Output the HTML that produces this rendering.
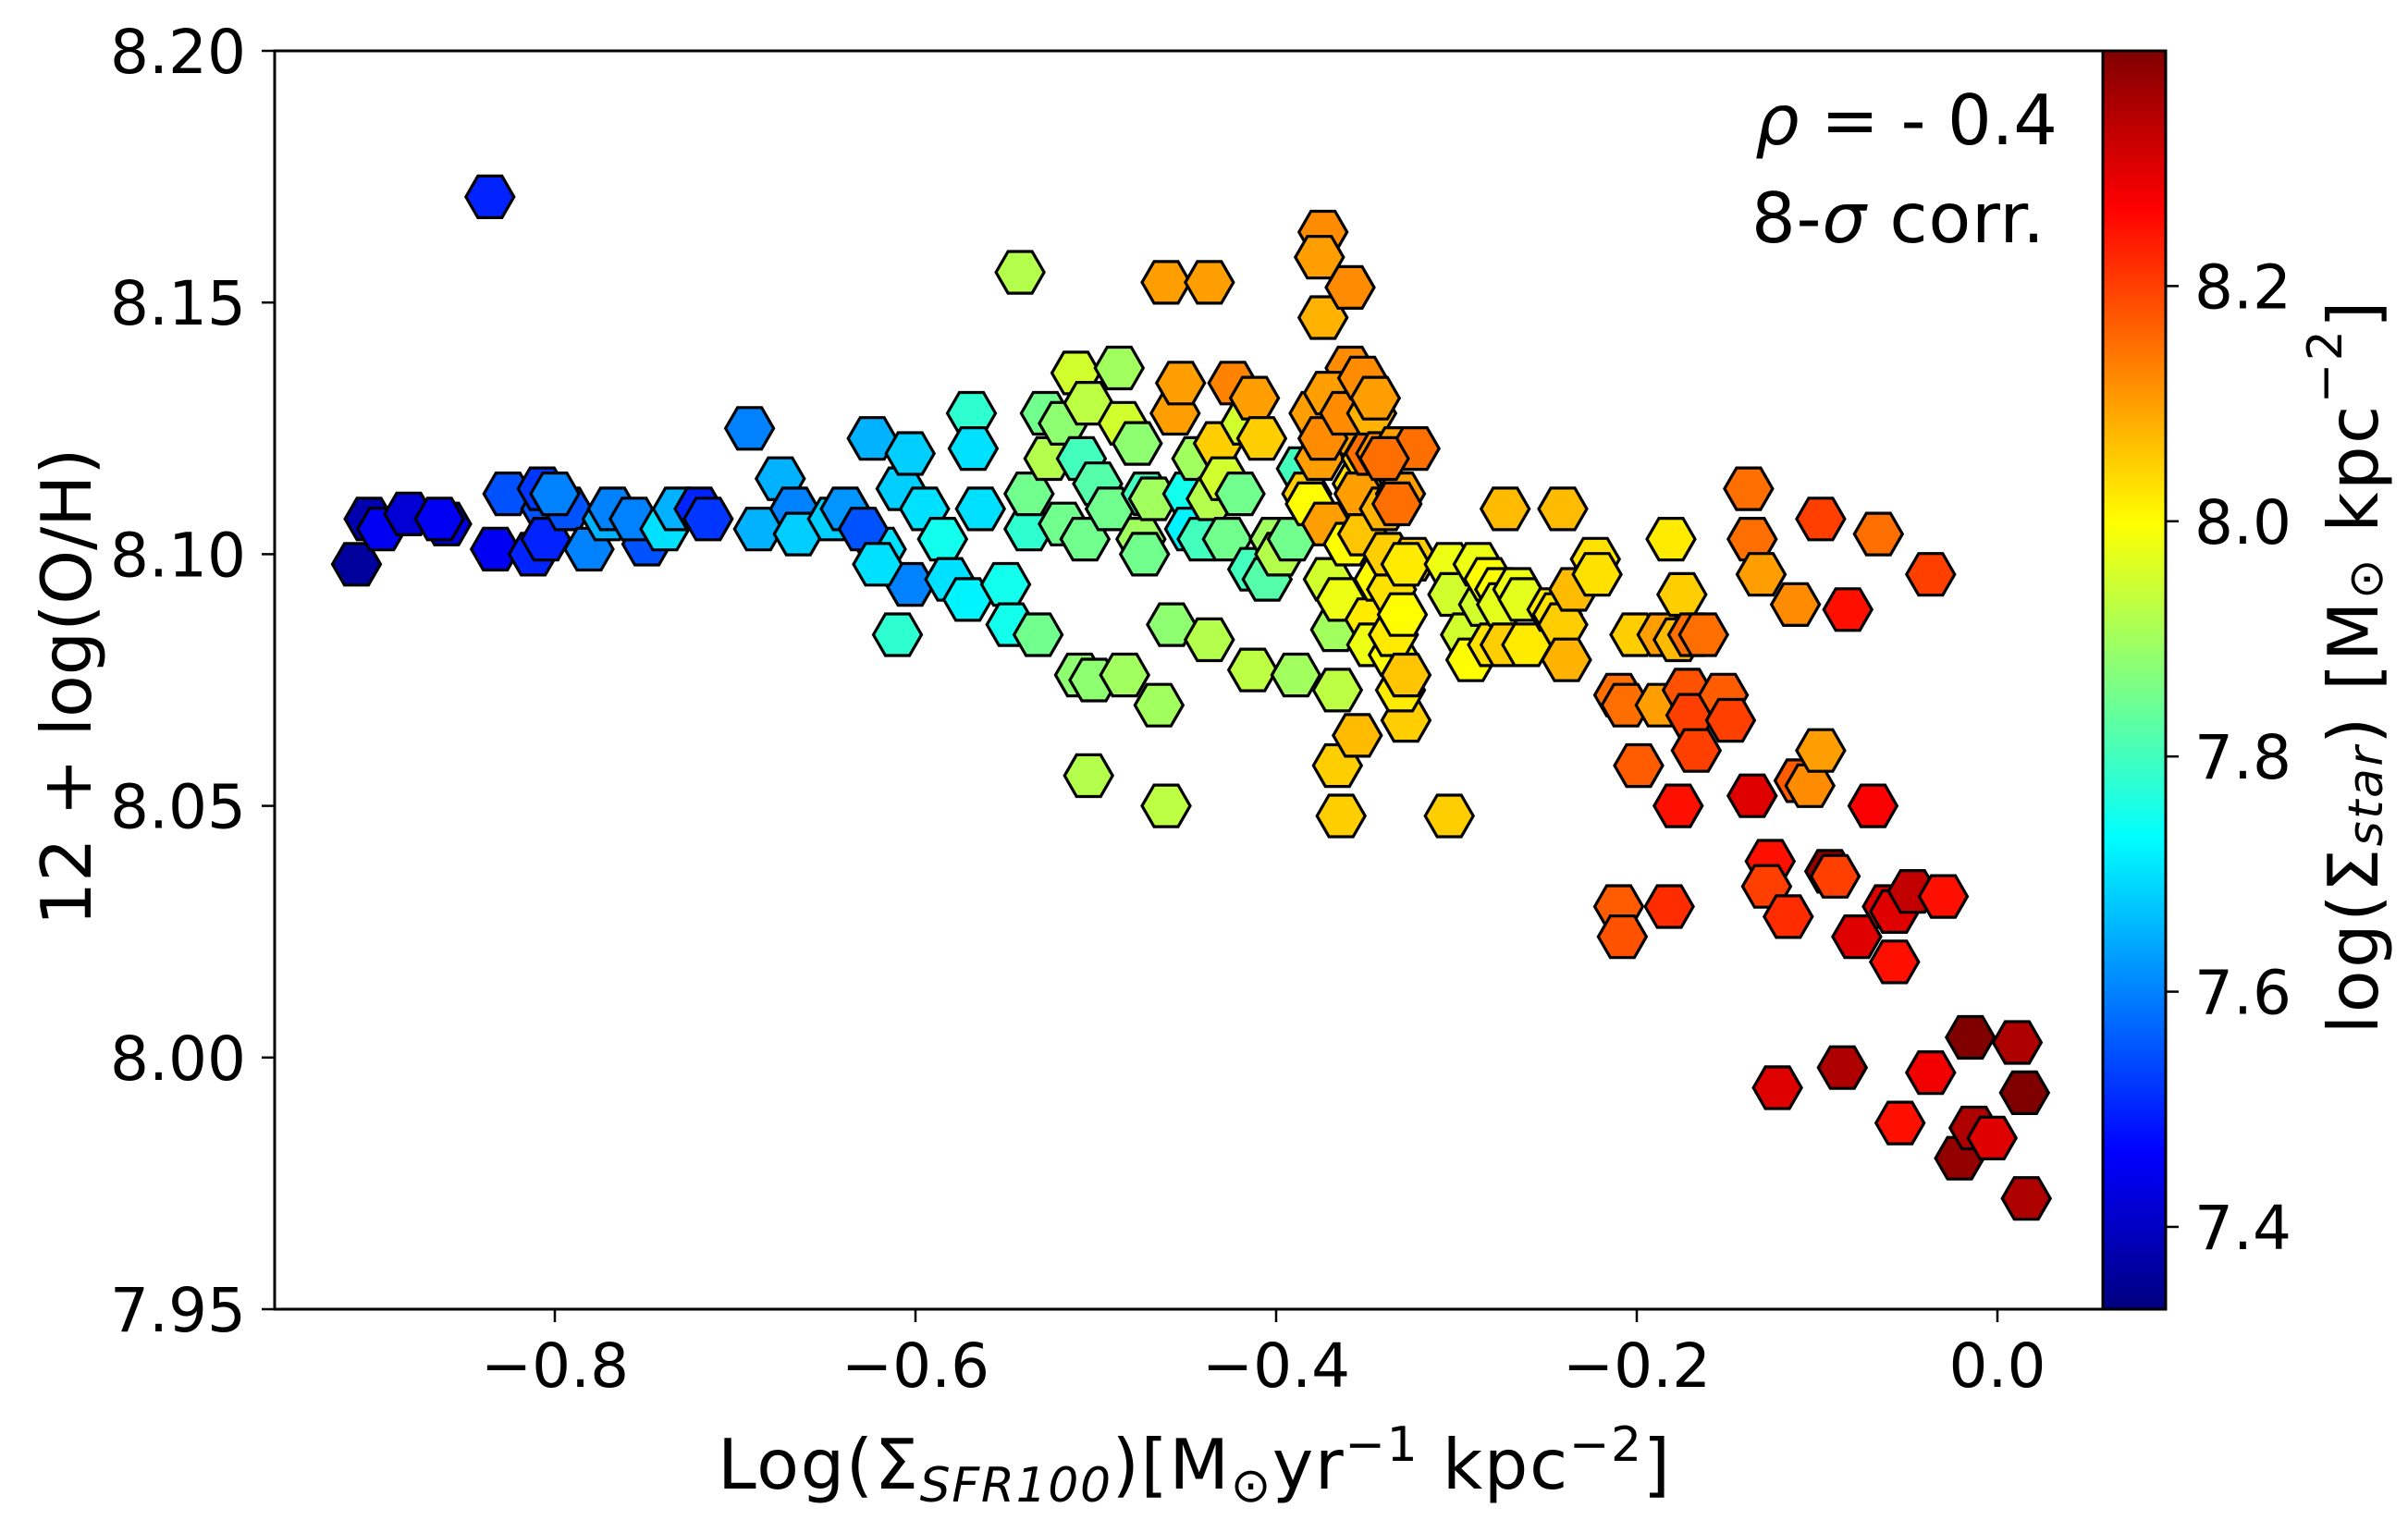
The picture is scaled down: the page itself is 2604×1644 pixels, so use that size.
<!DOCTYPE html>
<html><head><meta charset="utf-8"><title>O/H vs SFR</title>
<style>html,body{margin:0;padding:0;background:#fff;}svg{display:block;font-family:"DejaVu Sans","Liberation Sans",sans-serif;}</style>
</head><body>
<svg id="chart" width="2604" height="1644" viewBox="0 0 2604 1644" xmlns="http://www.w3.org/2000/svg">
<defs><linearGradient id="jet" x1="0" y1="1" x2="0" y2="0"></linearGradient></defs>
<rect width="2604" height="1644" fill="#fff"/>
<g id="points"></g>
<rect x="297" y="55" width="1977" height="1361" fill="none" stroke="#000" stroke-width="3"/>
<g id="xticks"></g>
<g id="yticks"></g>
<rect x="2274" y="55" width="68" height="1361" fill="url(#jet)" stroke="#000" stroke-width="3"/>
<g id="cticks"></g>
<text x="1898" y="156" font-size="75" textLength="327"><tspan font-style="italic">ρ</tspan> = - 0.4</text>
<text x="1894" y="262" font-size="75" textLength="317">8-<tspan font-style="italic">σ</tspan> corr.</text>
<text x="776" y="1610" font-size="75" textLength="1030">Log(Σ<tspan font-size="52" font-style="italic" dy="14">SFR100</tspan><tspan dy="-14">)[M</tspan><tspan font-size="52" dy="14">⊙</tspan><tspan dy="-14">yr</tspan><tspan font-size="52" dy="-30">−1</tspan><tspan dy="30">  kpc</tspan><tspan font-size="52" dy="-30">−2</tspan><tspan dy="30">]</tspan></text>
<text transform="translate(72,743) rotate(-90)" text-anchor="middle" dominant-baseline="central" font-size="75" textLength="517">12 + log(O/H)</text>
<text transform="translate(2545,722) rotate(-90)" text-anchor="middle" dominant-baseline="central" font-size="75" textLength="793">log(Σ<tspan font-size="52" font-style="italic" dy="14">star</tspan><tspan dy="-14">) [M</tspan><tspan font-size="52" dy="14">⊙</tspan><tspan dy="-14"> kpc</tspan><tspan font-size="52" dy="-30">−2</tspan><tspan dy="30">]</tspan></text>
</svg>
<script>
const xVals=[-0.910,-0.903,-0.896,-0.881,-0.860,-0.864,-0.836,-0.833,-0.826,-0.812,-0.805,-0.807,-0.805,-0.793,-0.781,-0.771,-0.768,-0.800,-0.749,-0.756,-0.739,-0.732,-0.720,-0.715,-0.692,-0.687,-0.675,-0.667,-0.665,-0.646,-0.639,-0.624,-0.619,-0.608,-0.603,-0.603,-0.610,-0.629,-0.621,-0.595,-0.585,-0.581,-0.571,-0.569,-0.568,-0.564,-0.550,-0.547,-0.537,-0.532,-0.518,-0.506,-0.542,-0.537,-0.528,-0.526,-0.518,-0.511,-0.508,-0.504,-0.509,-0.504,-0.501,-0.499,-0.492,-0.487,-0.485,-0.484,-0.477,-0.475,-0.473,-0.472,-0.468,-0.465,-0.461,-0.461,-0.458,-0.456,-0.453,-0.449,-0.448,-0.444,-0.441,-0.437,-0.437,-0.436,-0.432,-0.429,-0.427,-0.424,-0.420,-0.417,-0.413,-0.412,-0.413,-0.408,-0.405,-0.401,-0.398,-0.391,-0.389,-0.386,-0.383,-0.381,-0.376,-0.379,-0.374,-0.376,-0.374,-0.372,-0.371,-0.367,-0.366,-0.364,-0.360,-0.364,-0.359,-0.357,-0.355,-0.352,-0.350,-0.348,-0.347,-0.343,-0.374,-0.371,-0.366,-0.362,-0.359,-0.355,-0.354,-0.352,-0.348,-0.347,-0.345,-0.342,-0.340,-0.336,-0.335,-0.338,-0.335,-0.333,-0.331,-0.330,-0.328,-0.331,-0.328,-0.324,-0.323,-0.340,-0.333,-0.328,-0.304,-0.304,-0.302,-0.295,-0.292,-0.288,-0.285,-0.282,-0.280,-0.276,-0.275,-0.273,-0.266,-0.273,-0.263,-0.261,-0.247,-0.244,-0.241,-0.241,-0.239,-0.235,-0.223,-0.222,-0.210,-0.206,-0.201,-0.199,-0.210,-0.208,-0.186,-0.187,-0.182,-0.181,-0.175,-0.177,-0.172,-0.170,-0.167,-0.169,-0.163,-0.177,-0.152,-0.148,-0.138,-0.136,-0.136,-0.131,-0.126,-0.128,-0.122,-0.116,-0.112,-0.110,-0.104,-0.098,-0.098,-0.093,-0.090,-0.086,-0.083,-0.078,-0.069,-0.066,-0.061,-0.057,-0.057,-0.054,-0.047,-0.037,-0.030,-0.037,-0.021,-0.015,-0.013,-0.003,0.011,0.015,0.016];
const yVals=[8.098,8.107,8.105,8.108,8.106,8.107,8.171,8.101,8.112,8.100,8.109,8.113,8.103,8.109,8.101,8.107,8.109,8.112,8.102,8.107,8.105,8.109,8.109,8.107,8.125,8.105,8.115,8.109,8.104,8.107,8.109,8.123,8.101,8.113,8.120,8.094,8.084,8.105,8.098,8.109,8.103,8.095,8.091,8.128,8.121,8.109,8.094,8.086,8.105,8.084,8.106,8.103,8.156,8.112,8.128,8.119,8.126,8.136,8.119,8.130,8.076,8.056,8.075,8.114,8.109,8.137,8.126,8.076,8.122,8.103,8.100,8.112,8.111,8.070,8.154,8.050,8.086,8.128,8.134,8.112,8.105,8.119,8.103,8.154,8.083,8.111,8.122,8.115,8.103,8.134,8.112,8.126,8.097,8.131,8.077,8.123,8.095,8.103,8.100,8.103,8.076,8.117,8.112,8.110,8.119,8.128,8.164,8.159,8.147,8.106,8.095,8.085,8.073,8.091,8.102,8.048,8.137,8.124,8.114,8.104,8.119,8.087,8.082,8.095,8.123,8.132,8.058,8.128,8.153,8.064,8.112,8.135,8.120,8.128,8.131,8.120,8.109,8.093,8.080,8.100,8.084,8.121,8.112,8.088,8.067,8.073,8.076,8.099,8.121,8.119,8.110,8.098,8.048,8.098,8.092,8.084,8.079,8.098,8.090,8.095,8.082,8.093,8.090,8.109,8.093,8.082,8.091,8.082,8.089,8.088,8.109,8.086,8.079,8.093,8.099,8.096,8.072,8.070,8.084,8.058,8.030,8.024,8.084,8.070,8.030,8.103,8.092,8.083,8.073,8.068,8.061,8.084,8.084,8.050,8.072,8.067,8.113,8.103,8.052,8.096,8.039,8.034,7.994,8.028,8.090,8.055,8.054,8.061,8.107,8.037,8.036,7.998,8.089,8.024,8.050,8.104,8.030,8.029,8.019,7.987,8.033,7.997,8.032,8.096,7.980,8.004,7.986,7.984,8.003,7.993,7.972];
const cVals=[7.36,7.38,7.45,7.42,7.43,7.45,7.50,7.45,7.55,7.50,7.55,7.52,7.50,7.55,7.60,7.65,7.60,7.60,7.55,7.60,7.70,7.65,7.50,7.52,7.60,7.65,7.65,7.60,7.68,7.68,7.62,7.65,7.70,7.68,7.68,7.60,7.78,7.55,7.70,7.70,7.75,7.70,7.72,7.78,7.70,7.70,7.75,7.75,7.78,7.85,7.85,7.85,7.92,7.85,7.85,7.92,7.88,7.95,7.80,7.93,7.88,7.92,7.88,7.82,7.85,7.90,7.95,7.90,7.88,7.90,7.85,7.80,7.90,7.90,8.10,7.93,7.88,8.10,8.10,7.75,7.72,7.90,7.80,8.10,7.92,7.92,8.05,7.95,7.85,8.13,7.85,7.95,7.80,8.10,7.93,8.05,7.82,7.90,7.92,7.85,7.90,7.80,8.05,8.00,8.10,8.10,8.12,8.10,8.08,8.10,7.95,7.90,7.93,7.98,8.00,8.05,8.12,8.10,8.03,8.06,8.05,8.02,7.98,8.00,8.12,8.10,8.05,8.12,8.12,8.07,8.10,8.12,8.15,8.08,8.10,8.12,8.08,8.03,8.00,8.05,8.02,8.10,8.10,8.00,8.05,8.02,8.06,8.05,8.15,8.15,8.15,8.02,8.05,7.98,7.95,7.95,8.00,7.98,7.95,8.00,8.03,8.00,7.97,8.07,7.98,8.05,7.97,8.02,8.02,8.03,8.07,8.05,8.08,8.07,8.03,8.03,8.15,8.15,8.05,8.17,8.17,8.18,8.10,8.10,8.22,8.02,8.05,8.07,8.18,8.20,8.20,8.15,8.15,8.25,8.17,8.20,8.15,8.15,8.30,8.10,8.25,8.20,8.30,8.22,8.12,8.17,8.12,8.10,8.20,8.38,8.20,8.35,8.25,8.30,8.27,8.15,8.30,8.30,8.25,8.25,8.33,8.28,8.25,8.20,8.38,8.40,8.35,8.30,8.35,8.40,8.35];
const xTicks=[-0.8,-0.6,-0.4,-0.2,0.0];
const yTicks=[7.95,8.00,8.05,8.10,8.15,8.20];
const cTicks=[7.4,7.6,7.8,8.0,8.2];
const X0=297,X1=2274,Y0=55,Y1=1416,CMIN=7.33,CMAX=8.40;
const NS="http://www.w3.org/2000/svg";
function sx(v){return 2160+v*1950;}
function sy(v){return Y0+(8.20-v)/0.05*272.2;}
function sc(v){return Y1-(v-CMIN)/(CMAX-CMIN)*(Y1-Y0);}
function clamp(a){return Math.max(0,Math.min(1,a));}
function jet(t){const r=clamp(1.5-Math.abs(4*t-3)),g=clamp(1.5-Math.abs(4*t-2)),b=clamp(1.5-Math.abs(4*t-1));return "rgb("+Math.round(r*255)+","+Math.round(g*255)+","+Math.round(b*255)+")";}
function mk(tag,attrs,parent){const e=document.createElementNS(NS,tag);for(const k in attrs)e.setAttribute(k,attrs[k]);parent.appendChild(e);return e;}
const grad=document.getElementById('jet');
for(let i=0;i<=40;i++){mk('stop',{offset:(i/40),'stop-color':jet(i/40)},grad);}
const pts=document.getElementById('points');
const R=26,H=R*Math.sqrt(3)/2;
for(let i=0;i<xVals.length;i++){
 const cx=sx(xVals[i]),cy=sy(yVals[i]);
 const p=[[cx-R,cy],[cx-R/2,cy-H],[cx+R/2,cy-H],[cx+R,cy],[cx+R/2,cy+H],[cx-R/2,cy+H]].map(q=>q[0].toFixed(1)+","+q[1].toFixed(1)).join(" ");
 const el=mk('polygon',{points:p,fill:jet((cVals[i]-CMIN)/(CMAX-CMIN)),stroke:'#000','stroke-width':3.2,'stroke-linejoin':'miter'},pts);
 
 
}
const xg=document.getElementById('xticks');
xTicks.forEach(v=>{
 const x=sx(v);
 const t=mk('line',{x1:x,x2:x,y1:Y1,y2:Y1+14,stroke:'#000','stroke-width':2.5},xg);
 
 
 const l=mk('text',{x:x,y:1500,'font-size':66,'text-anchor':'middle'},xg);
 l.textContent=(v<0?"−":"")+Math.abs(v).toFixed(1);
 
 
});
const yg=document.getElementById('yticks');
yTicks.forEach(v=>{
 const y=sy(v);
 const t=mk('line',{x1:X0-14,x2:X0,y1:y,y2:y,stroke:'#000','stroke-width':2.5},yg);
 
 
 const l=mk('text',{x:266,y:y+24,'font-size':66,'text-anchor':'end'},yg);
 l.textContent=v.toFixed(2);
 
 
});
const cg=document.getElementById('cticks');
cTicks.forEach(v=>{
 const y=sc(v);
 const t=mk('line',{x1:2342,x2:2356,y1:y,y2:y,stroke:'#000','stroke-width':2.5},cg);
 
 
 const l=mk('text',{x:2373,y:y+24,'font-size':66},cg);
 l.textContent=v.toFixed(1);
 
 
});
</script>
</body></html>
